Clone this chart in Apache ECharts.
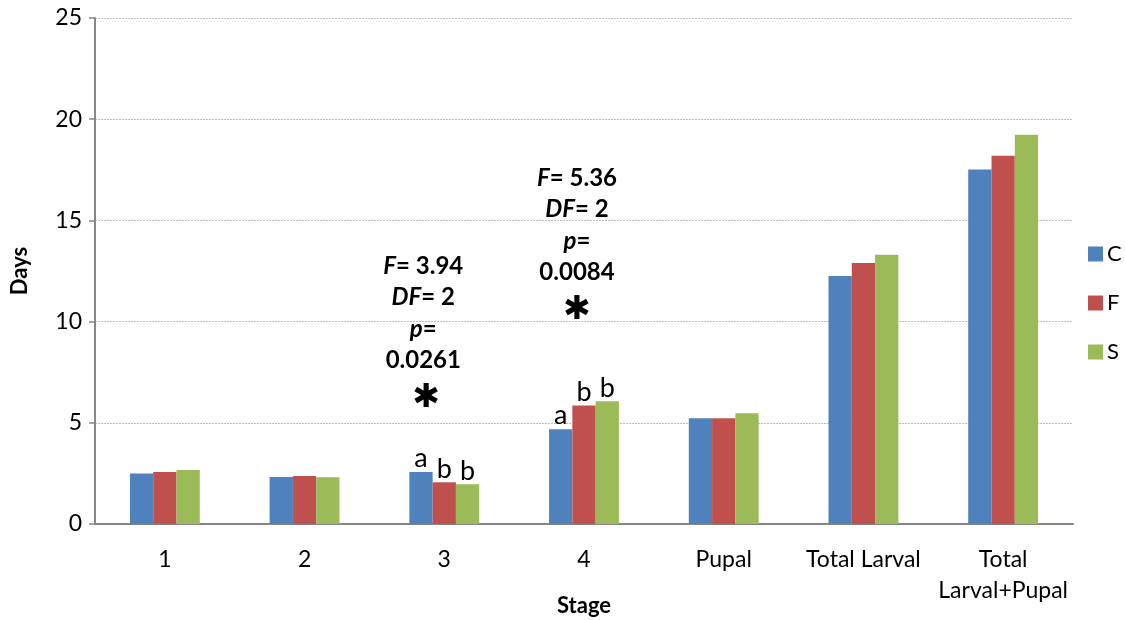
<!DOCTYPE html>
<html>
<head>
<meta charset="utf-8">
<script src="https://cdn.jsdelivr.net/npm/echarts@6/dist/echarts.min.js"></script>
<style>
  html, body { margin: 0; padding: 0; background: #fff; }
  #chart { width: 1125px; height: 620px; }
</style>
</head>
<body>
<div id="chart"></div>
<script>
// Development time per stage for three treatments
const stages = ['1', '2', '3', '4', 'Pupal', 'Total Larval', 'Total\nLarval+Pupal'];
const seriesNames = ['C', 'F', 'S'];
const valuesC = [2.50, 2.32, 2.57, 4.68, 5.22, 12.25, 17.52];
const valuesF = [2.57, 2.37, 2.06, 5.85, 5.22, 12.90, 18.20];
const valuesS = [2.67, 2.31, 1.96, 6.06, 5.47, 13.30, 19.23];
// Significance letters (empty where none)
const lettersC = ['', '', 'a', 'a', '', '', ''];
const lettersF = ['', '', 'b', 'b', '', '', ''];
const lettersS = ['', '', 'b', 'b', '', '', ''];
// ANOVA results shown above stages 3 and 4
const statStages = ['3', '4'];
const statF = ['3.94', '5.36'];
const statDF = ['2', '2'];
const statP = ['0.0261', '0.0084'];
const yTicks = [0, 5, 10, 15, 20, 25];

const colors = ['#4F81BD', '#C0504D', '#9BBB59'];
const FONT = 'Lato, "Open Sans", sans-serif';

const chart = echarts.init(document.getElementById('chart'));

function barSeries(name, values, letters, color) {
  return {
    name: name,
    type: 'bar',
    data: values,
    barGap: '0%',
    barCategoryGap: '50%',
    itemStyle: { color: color },
    label: {
      show: true,
      position: 'top',
      distance: 0,
      fontFamily: FONT,
      fontSize: 27,
      color: '#000',
      formatter: p => letters[p.dataIndex]
    }
  };
}

chart.setOption({
  animation: false,
  textStyle: { fontFamily: FONT },
  grid: { left: 95, right: 52, top: 18, bottom: 96, containLabel: false, outerBoundsMode: 'none' },
  legend: {
    orient: 'vertical',
    left: 1083,
    top: 238,
    itemWidth: 15,
    itemHeight: 15,
    itemGap: 27,
    icon: 'rect',
    textStyle: { fontFamily: FONT, fontSize: 22, color: '#000', padding: [0, 0, 0, -1] },
    data: seriesNames
  },
  xAxis: {
    type: 'category',
    data: stages,
    name: 'Stage',
    nameLocation: 'middle',
    nameGap: 71,
    nameMoveOverlap: false,
    nameTextStyle: { fontFamily: FONT, fontWeight: 'bold', fontStyle: 'normal', fontSize: 22, color: '#000' },
    axisLine: { lineStyle: { color: '#868686', width: 2 } },
    axisTick: { show: false },
    axisLabel: { fontFamily: FONT, fontSize: 23, color: '#000', margin: 20, lineHeight: 31, interval: 0, verticalAlign: 'top' }
  },
  yAxis: {
    type: 'value',
    min: 0,
    max: 25,
    interval: 5,
    name: 'Days',
    nameLocation: 'middle',
    nameGap: 64,
    nameMoveOverlap: false,
    nameTextStyle: { fontFamily: FONT, fontWeight: 'bold', fontSize: 22, color: '#000' },
    axisLine: { show: true, lineStyle: { color: '#868686', width: 2 } },
    axisTick: { show: true, inside: false, length: 6, lineStyle: { color: '#868686', width: 1.5 } },
    axisLabel: {
      fontFamily: FONT, fontSize: 23, color: '#000', margin: 13,
      formatter: v => (yTicks.indexOf(v) >= 0 ? String(v) : '')
    },
    splitLine: { show: true, lineStyle: { color: '#BEBEBE', type: [2, 1], width: 1 } }
  },
  series: [
    barSeries('C', valuesC, lettersC, colors[0]),
    barSeries('F', valuesF, lettersF, colors[1]),
    barSeries('S', valuesS, lettersS, colors[2])
  ]
});

// Statistics text blocks, placed relative to their category on the axes
const statAnchors = [{ value: 6.22, dx: -21 }, { value: 10.57, dx: -7 }];
const graphics = [];
statStages.forEach((st, i) => {
  const a = statAnchors[i];
  const pt = chart.convertToPixel({ seriesIndex: 0 }, [st, a.value]);
  const cx = chart.convertToPixel({ xAxisIndex: 0 }, st) + a.dx;
  const y = pt[1];
  graphics.push({
    type: 'text',
    x: cx, y: y - 22,
    style: {
      text: '{i|F}{b|= ' + statF[i] + '}\n{i|DF}{b|= ' + statDF[i] + '}\n{i|p}{b|=}\n{b|' + statP[i] + '}',
      align: 'center',
      verticalAlign: 'bottom',
      rich: {
        i: { fontFamily: FONT, fontSize: 24, fontWeight: 'bold', fontStyle: 'italic', fill: '#000', lineHeight: 31.5 },
        b: { fontFamily: FONT, fontSize: 24, fontWeight: 'bold', fill: '#000', lineHeight: 31.5 }
      }
    }
  });
  graphics.push({
    type: 'text',
    x: cx + (i === 0 ? 3 : 0), y: y,
    style: {
      text: '\u2731',
      align: 'center',
      verticalAlign: 'middle',
      fontFamily: '"DejaVu Sans", sans-serif',
      fontSize: 33,
      fill: '#000'
    }
  });
});
chart.setOption({ graphic: graphics });
</script>
</body>
</html>
